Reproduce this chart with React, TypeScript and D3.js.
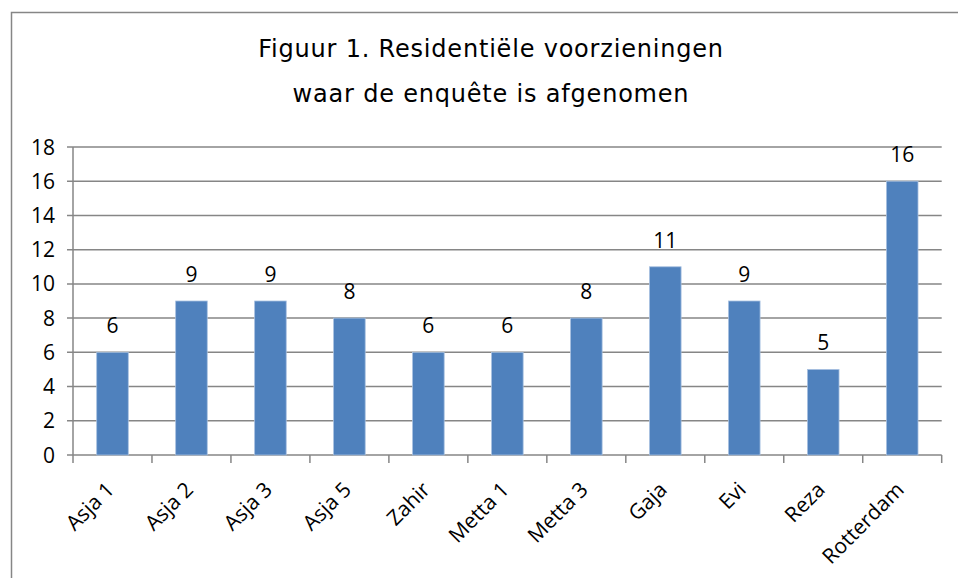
import React, { useEffect, useRef } from "react";
import * as d3 from "d3";

const categories = ["Asja 1", "Asja 2", "Asja 3", "Asja 5", "Zahir", "Metta 1", "Metta 3", "Gaja", "Evi", "Reza", "Rotterdam"];
const values = [6, 9, 9, 8, 6, 6, 8, 11, 9, 5, 16];
const yTicks = [0, 2, 4, 6, 8, 10, 12, 14, 16, 18];
const titleLines = ["Figuur 1. Residentiële voorzieningen", "waar de enquête is afgenomen"];

const W = 958;
const H = 578;

export default function App() {
  const ref = useRef<SVGSVGElement | null>(null);

  useEffect(() => {
    const svg = d3.select(ref.current);
    svg.selectAll("*").remove();

    const left = 73, right = 941.7, top = 147, bottom = 455;
    const gray = "#868686";
    const labelFont = "'Open Sans', sans-serif";

    const x = d3.scaleBand<string>().domain(categories).range([left, right]).padding(0);
    const y = d3.scaleLinear().domain([0, 18]).range([bottom, top]);

    // outer frame
    svg.append("rect")
      .attr("x", 11.5).attr("y", 12.5)
      .attr("width", 980).attr("height", 620)
      .attr("fill", "white")
      .attr("stroke", gray).attr("stroke-width", 1.5);

    // title
    svg.append("g")
      .attr("font-family", "'DejaVu Sans', sans-serif")
      .attr("font-size", 24)
      .attr("letter-spacing", 0.8)
      .attr("text-anchor", "middle")
      .attr("fill", "#000")
      .selectAll("text")
      .data(titleLines)
      .join("text")
      .attr("x", 491)
      .attr("y", (d, i) => 57 + i * 44.5)
      .text(d => d);

    // gridlines + y ticks
    const grid = svg.append("g").attr("stroke", gray).attr("stroke-width", 1.5);
    grid.selectAll("line.g")
      .data(yTicks)
      .join("line")
      .attr("class", "g")
      .attr("x1", left - 6).attr("x2", right)
      .attr("y1", d => y(d)).attr("y2", d => y(d));

    // y axis line
    grid.append("line")
      .attr("x1", left).attr("x2", left)
      .attr("y1", top).attr("y2", bottom);

    // x ticks at category boundaries
    const bounds = categories.map(c => x(c) as number).concat([right]);
    grid.selectAll("line.xt")
      .data(bounds)
      .join("line")
      .attr("class", "xt")
      .attr("x1", d => d).attr("x2", d => d)
      .attr("y1", bottom).attr("y2", bottom + 8);

    svg.append("g")
      .attr("font-family", labelFont)
      .attr("font-size", 21)
      .attr("text-anchor", "end")
      .selectAll("text")
      .data(yTicks)
      .join("text")
      .attr("x", 55)
      .attr("y", d => y(d))
      .attr("dy", "0.36em")
      .text(d => d);

    // bars
    const bw = x.bandwidth() * 0.4;
    svg.append("g")
      .selectAll("rect")
      .data(values)
      .join("rect")
      .attr("x", (d, i) => (x(categories[i]) as number) + (x.bandwidth() - bw) / 2)
      .attr("y", d => y(d))
      .attr("width", bw)
      .attr("height", d => y(0) - y(d))
      .attr("fill", "#4f81bd")
      .attr("stroke", "#a7c0e0")
      .attr("stroke-width", 0.8);

    // data labels
    svg.append("g")
      .attr("font-family", labelFont)
      .attr("font-size", 21)
      .attr("text-anchor", "middle")
      .selectAll("text")
      .data(values)
      .join("text")
      .attr("x", (d, i) => (x(categories[i]) as number) + x.bandwidth() / 2)
      .attr("y", d => y(d) - 19)
      .text(d => d);

    // category labels, rotated
    svg.append("g")
      .attr("font-family", labelFont)
      .attr("font-size", 21)
      .attr("text-anchor", "end")
      .selectAll("text")
      .data(categories)
      .join("text")
      .attr("transform", d => `translate(${(x(d) as number) + x.bandwidth() / 2 + 3},${491}) rotate(-45)`)
      .text(d => d);
  }, []);

  return (
    <svg ref={ref} width={W} height={H} style={{ position: "absolute", left: 0, top: 0, background: "white" }} />
  );
}
